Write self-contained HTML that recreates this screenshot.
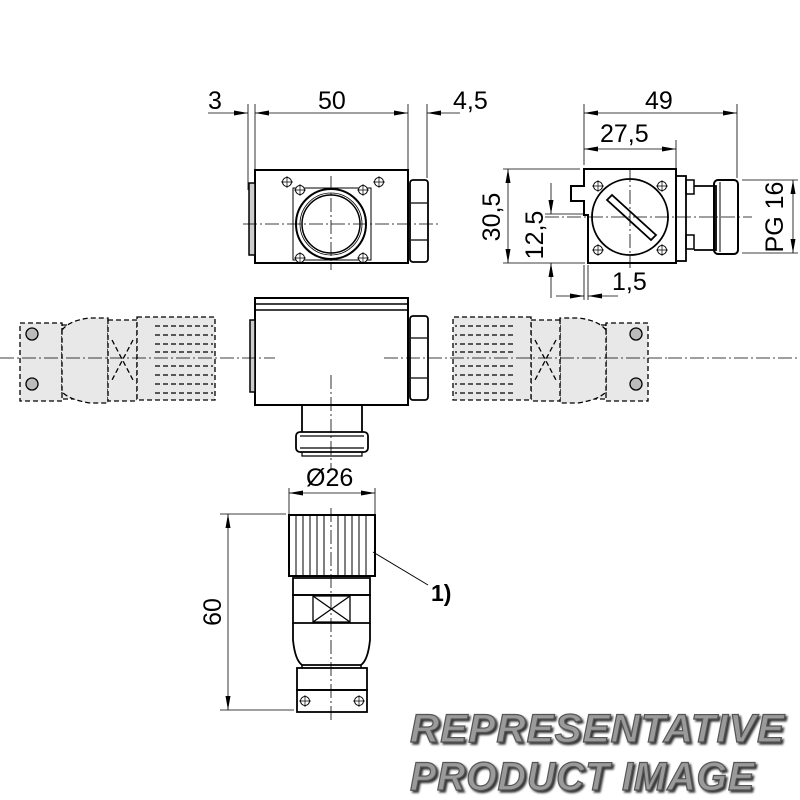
<!DOCTYPE html>
<html><head><meta charset="utf-8"><style>
html,body{margin:0;padding:0;background:#fff}
svg{display:block}
text{font-family:"Liberation Sans",sans-serif;fill:#000}
.wm{font-family:"Liberation Sans",sans-serif;font-weight:bold;font-style:italic;font-size:40px;fill:#9a9a9a;stroke:#555;stroke-width:1.2;letter-spacing:1px}
</style></head><body>
<svg width="800" height="800" viewBox="0 0 800 800" xmlns="http://www.w3.org/2000/svg">
<defs>
<marker id="a" viewBox="0 0 14 5" refX="14" refY="2.5" markerWidth="14" markerHeight="5" orient="auto-start-reverse" markerUnits="userSpaceOnUse"><path d="M0,0L14,2.5L0,5z" fill="#000"/></marker>
<g id="scr"><circle r="4.5" fill="#fff" stroke="#000" stroke-width="1"/><path d="M-6,0H6M0,-6V6" stroke="#000" stroke-width="0.7"/></g>
<g id="conn" fill="none" stroke="#000" stroke-width="1.3" stroke-dasharray="5,3">
<path d="M20,323H62V401H20Z M62,325H108V399H62Z" fill="#e8e8e8"/>
<path d="M62,330 Q70,320 90,318 H108 V403 H90 Q70,400 62,392Z" fill="#e8e8e8"/>
<path d="M108,320H137V401H108Z" fill="#e8e8e8"/>
<path d="M112,340L133,380M133,340L112,380"/>
<path d="M137,317H215V400H137Z" fill="#e8e8e8"/>
<path d="M155,326H213M155,335H213M155,344H213M155,352H213M155,366H213M155,375H213M155,384H213M155,393H213"/>
<circle cx="32" cy="334" r="6" fill="#bbb" stroke-dasharray="none"/>
<circle cx="32" cy="384" r="6" fill="#bbb" stroke-dasharray="none"/>
</g>
</defs>

<!-- TOP VIEW -->
<g fill="none" stroke="#000">
<rect x="255" y="170" width="153" height="93" stroke-width="2"/>
<rect x="249" y="183" width="6" height="72" stroke-width="1.5" fill="#ccc"/>
<rect x="410" y="180" width="18" height="82" rx="3" stroke-width="1.8"/>
<path d="M411,203H427M411,240H427" stroke-width="1.2"/>
<rect x="293" y="188" width="78" height="72" stroke-width="1"/>
<circle cx="331" cy="224" r="35" stroke-width="2"/>
<circle cx="331" cy="224" r="29" stroke-width="1.5"/>
<circle cx="331" cy="224" r="31" stroke-width="0.8"/>
</g>
<use href="#scr" x="287" y="182"/><use href="#scr" x="379" y="182"/>
<use href="#scr" x="300" y="190"/><use href="#scr" x="363" y="190"/>
<use href="#scr" x="300" y="258"/><use href="#scr" x="363" y="258"/>
<g stroke="#000" stroke-width="0.8" fill="none">
<path d="M243,224H440" stroke-dasharray="14,3,2,3"/>
<path d="M331,176V270" stroke-dasharray="14,3,2,3"/>
<path d="M248,104V190M255,104V170M408,104V170M427,104V178"/>
<path d="M208,113H248" marker-end="url(#a)"/><path d="M255,113H408" marker-start="url(#a)" marker-end="url(#a)"/><path d="M460,113H427" marker-end="url(#a)"/>
</g>
<text x="208" y="109" font-size="25">3</text>
<text x="318" y="109" font-size="25">50</text>
<text x="453" y="109" font-size="25">4,5</text>

<!-- SIDE VIEW -->
<g fill="none" stroke="#000">
<path d="M584,169H676V263H588V215H584V201H571V186H584Z" stroke-width="2"/>
<rect x="676" y="176" width="10" height="85" stroke-width="1.8"/>
<rect x="686" y="180" width="8" height="14" stroke-width="1.5"/>
<rect x="686" y="235" width="8" height="14" stroke-width="1.5"/>
<path d="M694,186H716V250H694" stroke-width="1.8"/>
<rect x="714" y="180" width="24" height="74" rx="4" stroke-width="2"/>
<path d="M720,182V252" stroke-width="1"/>
<circle cx="630" cy="217" r="38" stroke-width="1.8"/>
<path d="M607,200L651,240L656,235L612,195Z" stroke-width="1.8"/>
</g>
<use href="#scr" x="598" y="186"/><use href="#scr" x="662" y="186"/>
<use href="#scr" x="598" y="250"/><use href="#scr" x="662" y="250"/>
<g stroke="#000" stroke-width="0.8" fill="none">
<path d="M545,217H752" stroke-dasharray="14,3,2,3"/>
<path d="M630,168V268" stroke-dasharray="14,3,2,3"/>
<path d="M584,104V165M676,140V168M737,104V178"/>
<path d="M584,113H737" marker-start="url(#a)" marker-end="url(#a)"/>
<path d="M584,149H676" marker-start="url(#a)" marker-end="url(#a)"/>
<path d="M503,169H580M503,263H585"/>
<path d="M508,169V263" marker-start="url(#a)" marker-end="url(#a)"/>
<path d="M545,214H585"/>
<path d="M551,183V214" marker-end="url(#a)"/><path d="M551,298V263" marker-end="url(#a)"/>
<path d="M584,265V300M588,265V300"/>
<path d="M556,296H584" marker-end="url(#a)"/><path d="M618,296H588" marker-end="url(#a)"/>
<path d="M742,180H798M742,253H798"/>
<path d="M793,180V253" marker-start="url(#a)" marker-end="url(#a)"/>
</g>
<text x="645" y="109" font-size="25">49</text>
<text x="600" y="142" font-size="25">27,5</text>
<text x="612" y="290" font-size="25">1,5</text>
<text transform="translate(500,217) rotate(-90)" font-size="25" text-anchor="middle">30,5</text>
<text transform="translate(543,235) rotate(-90)" font-size="25" text-anchor="middle">12,5</text>
<text transform="translate(783,217) rotate(-90)" font-size="25" text-anchor="middle">PG 16</text>

<!-- MIDDLE -->
<use href="#conn"/>
<use href="#conn" transform="translate(668,0) scale(-1,1)"/>
<g fill="none" stroke="#000">
<rect x="255" y="298" width="153" height="107" stroke-width="2"/>
<path d="M255,304H408M255,310H408" stroke-width="1.5"/>
<rect x="250" y="320" width="5" height="72" stroke-width="1.5" fill="#ccc"/>
<rect x="410" y="316" width="18" height="84" rx="3" stroke-width="1.8"/>
<path d="M411,338H427M411,378H427" stroke-width="1.2"/>
<path d="M302,405V432M362,405V432" stroke-width="1.8"/>
<rect x="296" y="432" width="72" height="20" rx="4" stroke-width="1.8"/>
<path d="M300,436H364M300,448H364M302,452V456H362V452" stroke-width="1.2"/>
<path d="M0,358H275M384,358H668M668,358H800" stroke-width="0.8" stroke-dasharray="14,3,2,3"/>
<path d="M331,375V470" stroke-width="0.8" stroke-dasharray="14,3,2,3"/>
</g>

<!-- BOTTOM CONNECTOR -->
<g fill="none" stroke="#000">
<rect x="289" y="515" width="86" height="61" stroke-width="2"/>
<path d="M296,515V576M303,515V576M310,515V576M317,515V576M324,515V576M338,515V576M345,515V576M352,515V576M359,515V576M366,515V576" stroke-width="1"/>
<path d="M293,578H370V595H293Z" stroke-width="1.8"/>
<path d="M293,595H370V623H293Z" stroke-width="1.8"/>
<path d="M313,596V622H350V596ZM313,596L350,622M350,596L313,622" stroke-width="1.3"/>
<path d="M293,623V640Q295,660 302,665H361Q368,660 370,640V623" stroke-width="1.8"/>
<rect x="297" y="668" width="70" height="22" stroke-width="1.8"/>
<rect x="297" y="690" width="70" height="22" stroke-width="1.8"/>
<path d="M302,665V668M361,665V668" stroke-width="1.5"/>
<path d="M331,508V720" stroke-width="0.8" stroke-dasharray="14,3,2,3"/>
</g>
<use href="#scr" x="305" y="701"/><use href="#scr" x="359" y="701"/>
<g stroke="#000" stroke-width="0.8" fill="none">
<path d="M289,488V515M375,488V515"/>
<path d="M289,493H375" marker-start="url(#a)" marker-end="url(#a)"/>
<path d="M220,514H286M220,710H294"/>
<path d="M228,514V710" marker-start="url(#a)" marker-end="url(#a)"/>
<path d="M373,552L428,585" stroke-width="1"/>
</g>
<text x="306" y="486" font-size="25">Ø26</text>
<text transform="translate(221,612) rotate(-90)" font-size="25" text-anchor="middle">60</text>
<text x="431" y="601" font-size="23" font-weight="bold">1)</text>

<!-- WATERMARK -->
<g style="filter:drop-shadow(2px 2px 1px #333)">
<text class="wm" x="410" y="742" textLength="375" lengthAdjust="spacingAndGlyphs">REPRESENTATIVE</text>
<text class="wm" x="410" y="790" textLength="345" lengthAdjust="spacingAndGlyphs">PRODUCT  IMAGE</text>
</g>
</svg>
</body></html>
